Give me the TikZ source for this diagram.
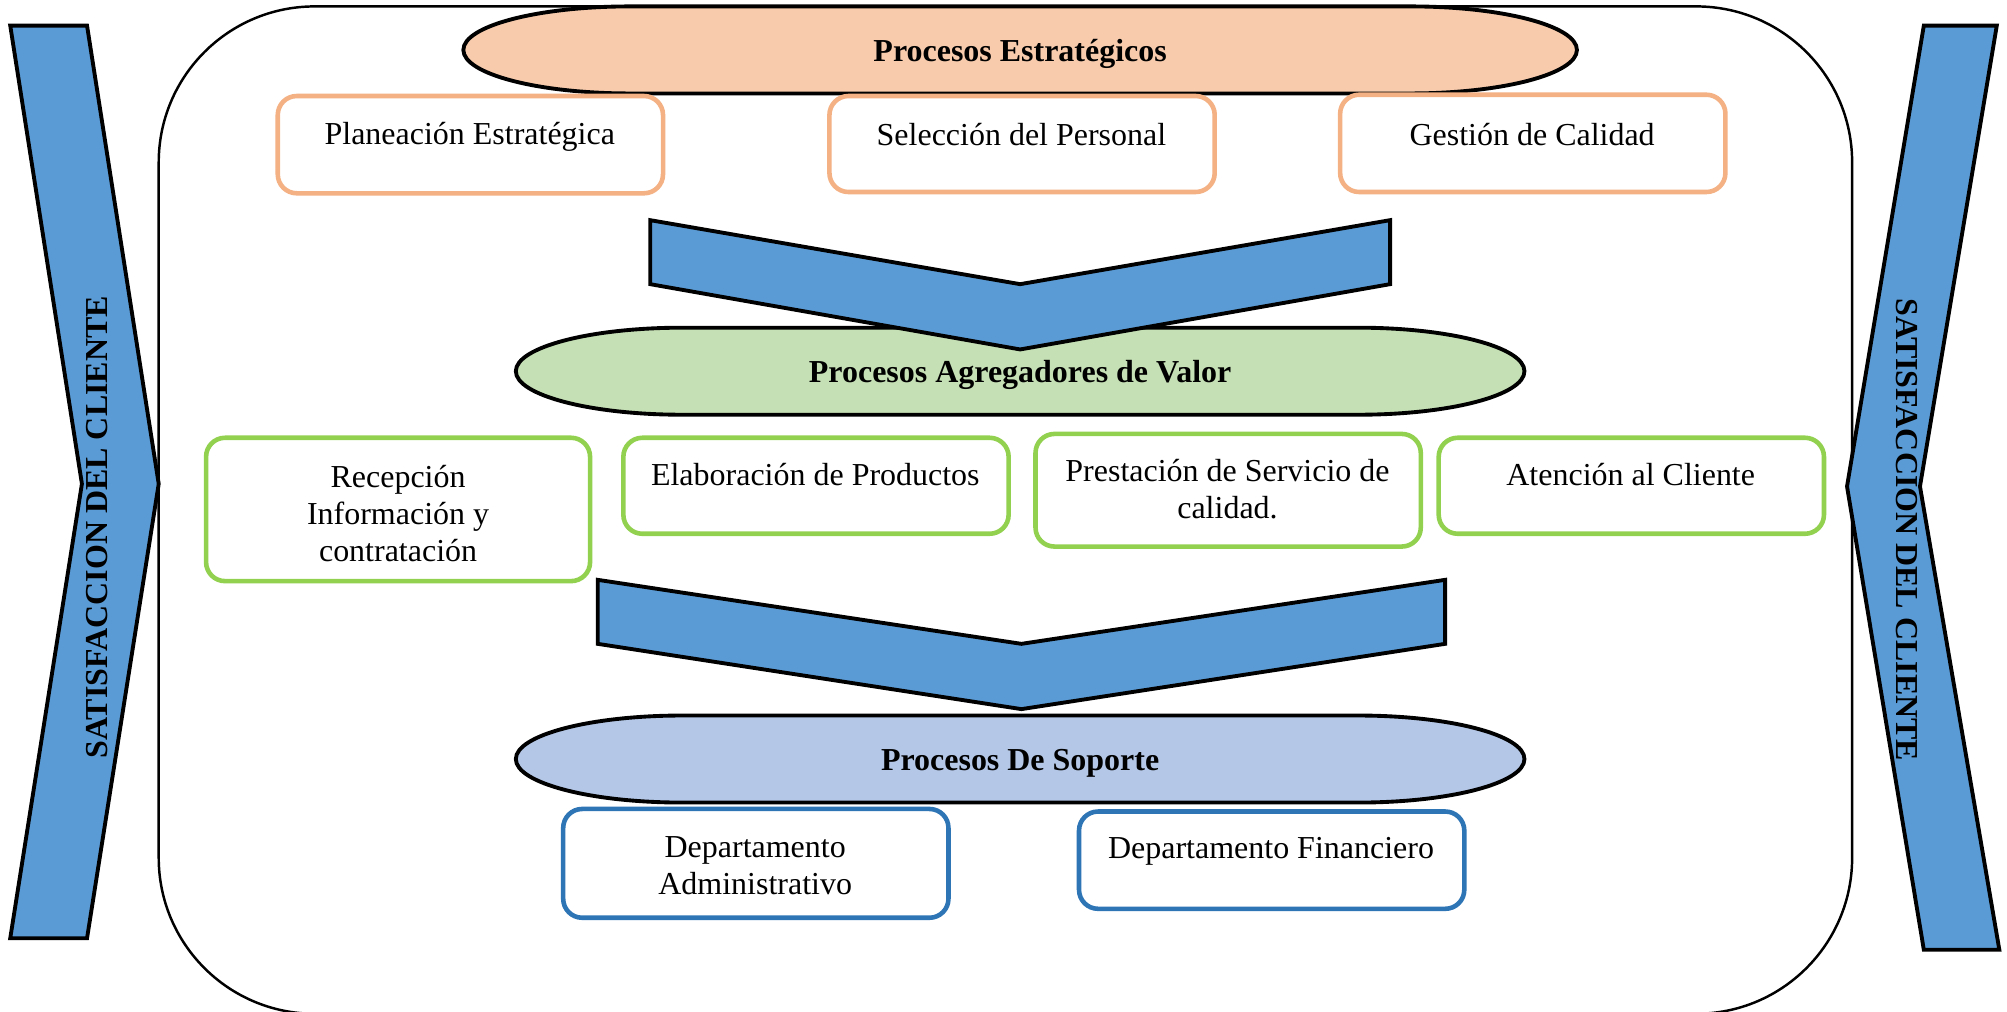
\documentclass[tikz,border=0pt]{standalone}
\usepackage{fontspec}
\setmainfont{Liberation Serif}
\definecolor{peachfill}{HTML}{F8CBAD}
\definecolor{orangeb}{HTML}{F4B183}
\definecolor{greenfill}{HTML}{C5E0B4}
\definecolor{greenb}{HTML}{92D050}
\definecolor{bluefill}{HTML}{B4C7E7}
\definecolor{blueb}{HTML}{2E75B6}
\definecolor{chev}{HTML}{5B9BD5}
\newcommand\drawstadium[5]{%
  \pgfmathsetmacro\sL{#1-#3/2}\pgfmathsetmacro\sR{#1+#3/2}%
  \pgfmathsetmacro\sT{#2-#4/2}\pgfmathsetmacro\sB{#2+#4/2}%
  \pgfmathsetmacro\sK{0.5523*#4/2}%
  \draw[shapeline, fill=#5] ({\sL+130},\sT) -- ({\sR-130},\sT)
    .. controls ({\sR-130+71.8},\sT) and (\sR,{#2-\sK}) .. (\sR,#2)
    .. controls (\sR,{#2+\sK}) and ({\sR-130+71.8},\sB) .. ({\sR-130},\sB)
    -- ({\sL+130},\sB)
    .. controls ({\sL+130-71.8},\sB) and (\sL,{#2+\sK}) .. (\sL,#2)
    .. controls (\sL,{#2-\sK}) and ({\sL+130-71.8},\sT) .. ({\sL+130},\sT) -- cycle;}
\begin{document}
\begin{tikzpicture}[x=0.0256cm,y=-0.0256cm,
  txt/.style={font=\fontsize{18.2}{21.1}\selectfont, inner sep=0pt, align=center},
  head/.style={inner sep=0pt, align=center, font=\fontsize{18.2}{21.1}\selectfont\bfseries},
  box/.style={draw=#1, line width=2.6pt, rounded corners=0.38cm, fill=white, inner sep=0pt},
  shapeline/.style={draw=black, line width=2.2pt, line join=miter},
  band/.style={shapeline, fill=chev},
]
\clip (0,0) rectangle (1568,790);
\fill[white] (0,0) rectangle (1568,790);
% outer frame
\draw[line width=1.4pt, rounded corners=3.12cm] (124,5) rectangle (1447,792);
% side bands
\draw[band] (8,20) -- (68,20) -- (124,378) -- (68,733) -- (8,733) -- (64,378) -- cycle;
\draw[band] (1503,20) -- (1560,20) -- (1500,380) -- (1562,742) -- (1503,742) -- (1443,380) -- cycle;
\node[head, rotate=90] (satl) at (76,412) {SATISFACCION DEL CLIENTE};
\node[head, rotate=-90] (satr) at (1490,414) {SATISFACCION DEL CLIENTE};
% strategic
\drawstadium{797}{39}{870}{68}{peachfill}
\node[head] (e1) at (797,42) {Procesos Estratégicos};
\node[box=orangeb, minimum width=301*0.0256cm, minimum height=76*0.0256cm] (b1) at (367.5,113) {};
\node[box=orangeb, minimum width=301*0.0256cm, minimum height=75*0.0256cm] (b2) at (798.5,112.5) {};
\node[box=orangeb, minimum width=301*0.0256cm, minimum height=76*0.0256cm] (b3) at (1197.5,112) {};
\node[txt] (b1t) at (367,107) {Planeación Estratégica};
\node[txt] (b2t) at (798,105) {Selección del Personal};
\node[txt] (b3t) at (1197,105) {Gestión de Calidad};
% value
\drawstadium{797}{290}{788}{68}{greenfill}
\draw[band] (508,172) -- (797,222) -- (1086,172) -- (1086,222) -- (797,273) -- (508,222) -- cycle;
\node[head] (e2) at (797,293) {Procesos Agregadores de Valor};
\node[box=greenb, minimum width=300*0.0256cm, minimum height=112*0.0256cm] (c1) at (311,398) {};
\node[box=greenb, minimum width=301*0.0256cm, minimum height=75*0.0256cm] (c2) at (637.5,379.5) {};
\node[box=greenb, minimum width=301*0.0256cm, minimum height=88*0.0256cm] (c3) at (959.5,383) {};
\node[box=greenb, minimum width=301*0.0256cm, minimum height=75*0.0256cm] (c4) at (1274.5,379.5) {};
\node[txt] (c1t) at (311,401) {Recepción\\Información y\\contratación};
\node[txt] (c2t) at (637,371) {Elaboración de Productos};
\node[txt] (c3t) at (959,382) {Prestación de Servicio de\\calidad.};
\node[txt] (c4t) at (1274,371) {Atención al Cliente};
% support
\draw[band] (467,453) -- (798,503) -- (1129,453) -- (1129,503) -- (798,554) -- (467,503) -- cycle;
\drawstadium{797}{593}{788}{68}{bluefill}
\node[head] (e3) at (797,596) {Procesos De Soporte};
\node[box=blueb, minimum width=301*0.0256cm, minimum height=85*0.0256cm] (d1) at (590.5,674.5) {};
\node[box=blueb, minimum width=301*0.0256cm, minimum height=76*0.0256cm] (d2) at (993.5,672) {};
\node[txt] (d1t) at (590,676) {Departamento\\Administrativo};
\node[txt] (d2t) at (993,665) {Departamento Financiero};
\end{tikzpicture}
\end{document}
